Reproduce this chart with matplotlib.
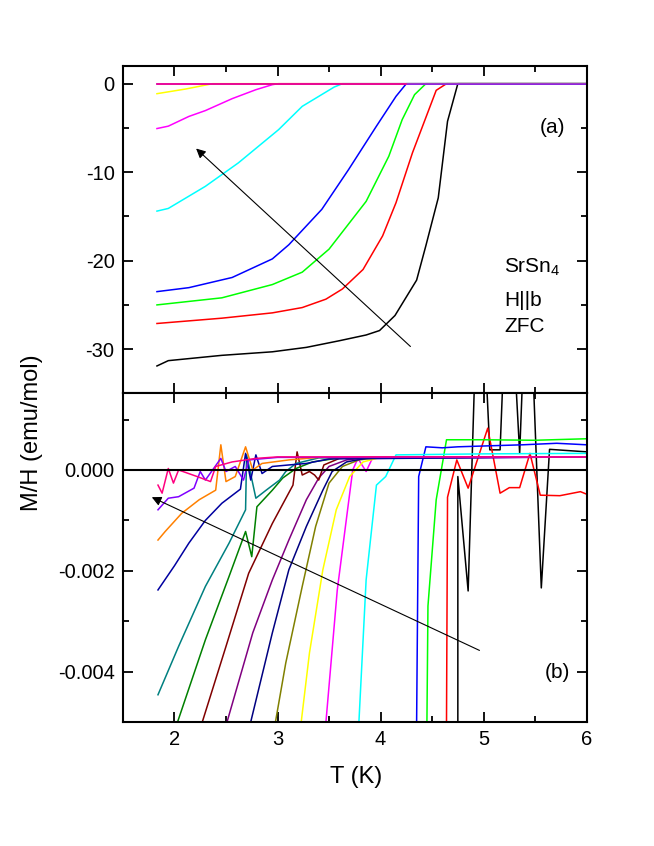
import matplotlib
matplotlib.use('Agg')
import matplotlib.pyplot as plt
from matplotlib.ticker import MultipleLocator, FixedLocator

plt.rcParams['font.family'] = ['Liberation Sans', 'DejaVu Sans']
plt.rcParams['axes.unicode_minus'] = False
plt.rcParams['mathtext.fontset'] = 'custom'
plt.rcParams['mathtext.rm'] = 'Liberation Sans'
plt.rcParams['mathtext.it'] = 'Liberation Sans:italic'

# ---------------- panel (a): M/H (emu/mol) vs T (K) ----------------
a_black_T = [1.83, 1.94, 2.46, 2.95, 3.28, 3.60, 3.86, 3.99, 4.14, 4.35, 4.44, 4.56, 4.65, 4.75, 6.0]
a_black_M = [-31.9, -31.3, -30.7, -30.3, -29.8, -29.05, -28.4, -27.9, -26.2, -22.2, -18.3, -12.9, -4.25, 0, 0]
a_red_T = [1.83, 2.46, 2.95, 3.24, 3.47, 3.63, 3.83, 4.02, 4.15, 4.31, 4.54, 4.64, 6.0]
a_red_M = [-27.1, -26.5, -25.9, -25.3, -24.35, -23.2, -21.0, -17.2, -13.45, -7.8, -0.75, 0, 0]
a_green_T = [1.83, 2.46, 2.95, 3.24, 3.50, 3.86, 4.08, 4.21, 4.33, 4.44, 6.0]
a_green_M = [-25.0, -24.2, -22.7, -21.3, -18.7, -13.3, -8.2, -4.06, -1.24, 0, 0]
a_blue_T = [1.83, 2.14, 2.56, 2.95, 3.11, 3.43, 3.69, 3.96, 4.15, 4.25, 6.0]
a_blue_M = [-23.5, -23.05, -21.9, -19.8, -18.2, -14.2, -9.7, -4.8, -1.43, 0, 0]
a_cyan_T = [1.83, 1.94, 2.30, 2.62, 3.01, 3.24, 3.55, 3.63, 6.0]
a_cyan_M = [-14.4, -14.1, -11.6, -8.95, -5.2, -2.56, -0.38, 0, 0]
a_magenta_T = [1.83, 1.94, 2.14, 2.30, 2.56, 2.79, 2.95, 3.01, 6.0]
a_magenta_M = [-5.07, -4.8, -3.7, -3.04, -1.69, -0.68, -0.11, 0, 0]
a_yellow_T = [1.83, 2.11, 2.37, 6.0]
a_yellow_M = [-1.13, -0.6, 0, 0]
a_violet_T = [1.83, 6.0]
a_violet_M = [0, 0]
a_pink_T = [1.83, 4.25]
a_pink_M = [0, 0]

# ---------------- panel (b): low-field curves ----------------
b_black_T = [4.75, 4.75, 4.85, 4.93, 5.0, 5.06, 5.16, 5.21, 5.28, 5.35, 5.40, 5.46, 5.56, 5.64, 6.0]
b_black_M = [-0.005, -0.00013, -0.0024, 0.003, 0.003, 0.0004, 0.0004, 0.003, 0.003, 0.00033, 0.003, 0.003, -0.00234, 0.00041, 0.00036]
b_red_T = [4.64, 4.65, 4.74, 4.85, 5.04, 5.16, 5.25, 5.35, 5.45, 5.55, 5.74, 5.94, 6.0]
b_red_M = [-0.005, -0.00054, 0.0002, -0.00036, 0.00083, -0.00046, -0.00035, -0.00035, 0.00033, -0.0005, -0.00051, -0.00043, -0.00048]
b_green_T = [4.45, 4.46, 4.54, 4.64, 5.0, 5.5, 6.0]
b_green_M = [-0.005, -0.0027, -0.00059, 0.0006, 0.0006, 0.00059, 0.00062]
b_blue_T = [4.35, 4.37, 4.44, 4.6, 4.75, 5.06, 5.38, 5.71, 6.0]
b_blue_M = [-0.005, -0.00013, 0.00046, 0.00044, 0.00046, 0.00048, 0.0005, 0.00053, 0.0005]
b_cyan_T = [3.79, 3.86, 3.96, 4.05, 4.15, 5.0, 6.0]
b_cyan_M = [-0.005, -0.00218, -0.0003, -0.00013, 0.0003, 0.00032, 0.00033]
b_magenta_T = [3.47, 3.58, 3.68, 3.73, 3.78, 3.86, 3.92, 6.0]
b_magenta_M = [-0.005, -0.00238, -0.00079, 0.0, 0.00023, -0.00003, 0.00023, 0.00026]
b_yellow_T = [3.23, 3.31, 3.44, 3.57, 3.70, 3.83, 4.0, 6.0]
b_yellow_M = [-0.005, -0.00363, -0.00198, -0.00079, -0.00013, 0.00016, 0.00025, 0.00026]
b_dkyellow_T = [2.98, 3.08, 3.24, 3.37, 3.50, 3.63, 3.79, 4.0, 6.0]
b_dkyellow_M = [-0.005, -0.00383, -0.00231, -0.00112, -0.00026, 0.00007, 0.0002, 0.00025, 0.00026]
b_navy_T = [2.74, 2.95, 3.11, 3.28, 3.44, 3.53, 3.67, 3.9, 6.0]
b_navy_M = [-0.005, -0.00323, -0.00198, -0.00112, -0.0004, -0.00003, 0.00016, 0.00025, 0.00026]
b_purple_T = [2.51, 2.76, 2.95, 3.11, 3.28, 3.40, 3.50, 3.67, 3.9, 6.0]
b_purple_M = [-0.005, -0.00323, -0.00218, -0.00139, -0.00059, -0.00016, 0.00007, 0.0002, 0.00025, 0.00026]
b_wine_T = [2.27, 2.50, 2.72, 2.95, 3.15, 3.19, 3.24, 3.31, 3.36, 3.40, 3.45, 3.60, 3.8, 6.0]
b_wine_M = [-0.005, -0.0035, -0.00205, -0.00106, -0.0003, 0.00036, -0.0001, -0.00003, -0.0001, -0.0002, 0.0001, 0.00023, 0.00025, 0.00026]
b_dkgreen_T = [2.03, 2.30, 2.53, 2.69, 2.75, 2.80, 2.95, 3.05, 3.18, 3.34, 3.6, 6.0]
b_dkgreen_M = [-0.005, -0.00337, -0.00211, -0.00122, -0.00172, -0.00073, -0.0004, -0.00016, 0.00003, 0.00016, 0.00024, 0.00026]
b_dkcyan_T = [1.84, 2.04, 2.30, 2.53, 2.69, 2.70, 2.79, 2.89, 3.02, 3.08, 3.18, 3.4, 6.0]
b_dkcyan_M = [-0.00446, -0.0035, -0.00231, -0.00145, -0.00079, 0.0003, -0.00056, -0.0004, -0.0002, -0.00003, 0.00013, 0.00024, 0.00026]
b_royal_T = [1.84, 2.0, 2.14, 2.30, 2.46, 2.64, 2.69, 2.74, 2.79, 2.85, 2.95, 3.11, 3.28, 3.5, 6.0]
b_royal_M = [-0.00238, -0.0019, -0.00145, -0.001, -0.00066, -0.00038, 0.00033, -0.0002, 0.0003, -0.00007, 0.00007, 0.0001, 0.00013, 0.00022, 0.00026]
b_orange_T = [1.84, 1.91, 2.07, 2.24, 2.40, 2.45, 2.50, 2.59, 2.69, 2.76, 2.85, 3.11, 3.4, 6.0]
b_orange_M = [-0.00139, -0.00122, -0.00086, -0.00059, -0.0004, 0.0005, -0.00023, -0.00013, 0.00046, 0.0, 0.00013, 0.0002, 0.00025, 0.00026]
b_violet_T = [1.84, 1.94, 2.04, 2.19, 2.25, 2.30, 2.45, 2.50, 2.59, 2.67, 2.72, 3.0, 6.0]
b_violet_M = [-0.00079, -0.00056, -0.00053, -0.00036, -0.00003, -0.0002, 0.00023, -0.00003, 0.00007, -0.0002, 0.0002, 0.00025, 0.00026]
b_pink_T = [1.84, 1.88, 1.94, 1.99, 2.04, 2.22, 2.35, 2.40, 2.56, 2.79, 3.0, 6.0]
b_pink_M = [-0.0003, -0.00046, 0.00003, -0.00026, 0.0, -0.00013, -0.00023, 0.00007, 0.00016, 0.00023, 0.00026, 0.00026]

a_series = [
    (a_black_T, a_black_M, 'black'),
    (a_red_T, a_red_M, 'red'),
    (a_green_T, a_green_M, '#00FF00'),
    (a_blue_T, a_blue_M, 'blue'),
    (a_cyan_T, a_cyan_M, 'cyan'),
    (a_magenta_T, a_magenta_M, 'magenta'),
    (a_yellow_T, a_yellow_M, '#FFFF00'),
    (a_violet_T, a_violet_M, '#8000FF'),
    (a_pink_T, a_pink_M, '#FF0080'),
]

b_series = [
    (b_black_T, b_black_M, 'black'),
    (b_red_T, b_red_M, 'red'),
    (b_green_T, b_green_M, '#00FF00'),
    (b_blue_T, b_blue_M, 'blue'),
    (b_cyan_T, b_cyan_M, 'cyan'),
    (b_magenta_T, b_magenta_M, 'magenta'),
    (b_yellow_T, b_yellow_M, '#FFFF00'),
    (b_dkyellow_T, b_dkyellow_M, '#808000'),
    (b_navy_T, b_navy_M, '#000080'),
    (b_purple_T, b_purple_M, '#800080'),
    (b_wine_T, b_wine_M, '#800000'),
    (b_dkgreen_T, b_dkgreen_M, '#008000'),
    (b_dkcyan_T, b_dkcyan_M, '#008080'),
    (b_royal_T, b_royal_M, '#0000A0'),
    (b_orange_T, b_orange_M, '#FF8000'),
    (b_violet_T, b_violet_M, '#8000FF'),
    (b_pink_T, b_pink_M, '#FF0080'),
]

FS = 14.5    # tick labels
FS_TXT = 15  # panel texts
FS_LAB = 17  # axis labels

fig = plt.figure(figsize=(6.54, 8.46), dpi=100)
ax_a = fig.add_axes([0.188, 0.535, 0.709, 0.387])
ax_b = fig.add_axes([0.188, 0.1466, 0.709, 0.3884])


def style_axes(ax):
    for sp in ax.spines.values():
        sp.set_linewidth(1.5)
    ax.set_xlim(1.5, 6.0)
    ax.xaxis.set_major_locator(MultipleLocator(1))
    ax.xaxis.set_minor_locator(MultipleLocator(0.5))
    ax.tick_params(which='both', direction='in', top=True, right=True,
                   labelsize=FS, width=1.3)
    ax.tick_params(which='major', length=7, pad=6)
    ax.tick_params(which='minor', length=4)


# panel (a)
for T, M, c in a_series:
    ax_a.plot(T, M, color=c, lw=1.1)
style_axes(ax_a)
ax_a.set_ylim(-35, 2)
ax_a.yaxis.set_major_locator(FixedLocator([0, -10, -20, -30]))
ax_a.yaxis.set_minor_locator(MultipleLocator(5))
ax_a.tick_params(labelbottom=False)
ax_a.annotate('', xy=(2.21, -7.33), xytext=(4.29, -29.7),
              arrowprops=dict(arrowstyle='-|>', color='black', lw=0.8,
                              mutation_scale=14, shrinkA=0, shrinkB=0))
ax_a.text(5.67, -5.0, '(a)', fontsize=FS_TXT, ha='center', va='center')
ax_a.text(5.2, -20.7, 'SrSn$_4$', fontsize=FS_TXT, ha='left', va='center')
ax_a.text(5.2, -24.5, 'H||b', fontsize=FS_TXT, ha='left', va='center')
ax_a.text(5.2, -27.4, 'ZFC', fontsize=FS_TXT, ha='left', va='center')

# panel (b)
for T, M, c in b_series:
    ax_b.plot(T, M, color=c, lw=1.1)
ax_b.axhline(0, color='black', lw=1.5, zorder=5)
style_axes(ax_b)
ax_b.set_ylim(-0.005, 0.00152)
ax_b.yaxis.set_major_locator(MultipleLocator(0.002))
ax_b.yaxis.set_minor_locator(MultipleLocator(0.001))
ax_b.yaxis.set_major_formatter(plt.FuncFormatter(lambda v, p: f'{v:.3f}'))
ax_b.annotate('', xy=(1.78, -0.00054), xytext=(4.96, -0.00358),
              arrowprops=dict(arrowstyle='-|>', color='black', lw=0.8,
                              mutation_scale=14, shrinkA=0, shrinkB=0))
ax_b.text(5.72, -0.00402, '(b)', fontsize=FS_TXT, ha='center', va='center')

fig.text(0.049, 0.489, 'M/H (emu/mol)', rotation=90, fontsize=FS_LAB,
         ha='center', va='center')
fig.text(0.544, 0.0816, 'T (K)', fontsize=FS_LAB, ha='center', va='center')

fig.savefig('out.png', dpi=100, facecolor='white')
